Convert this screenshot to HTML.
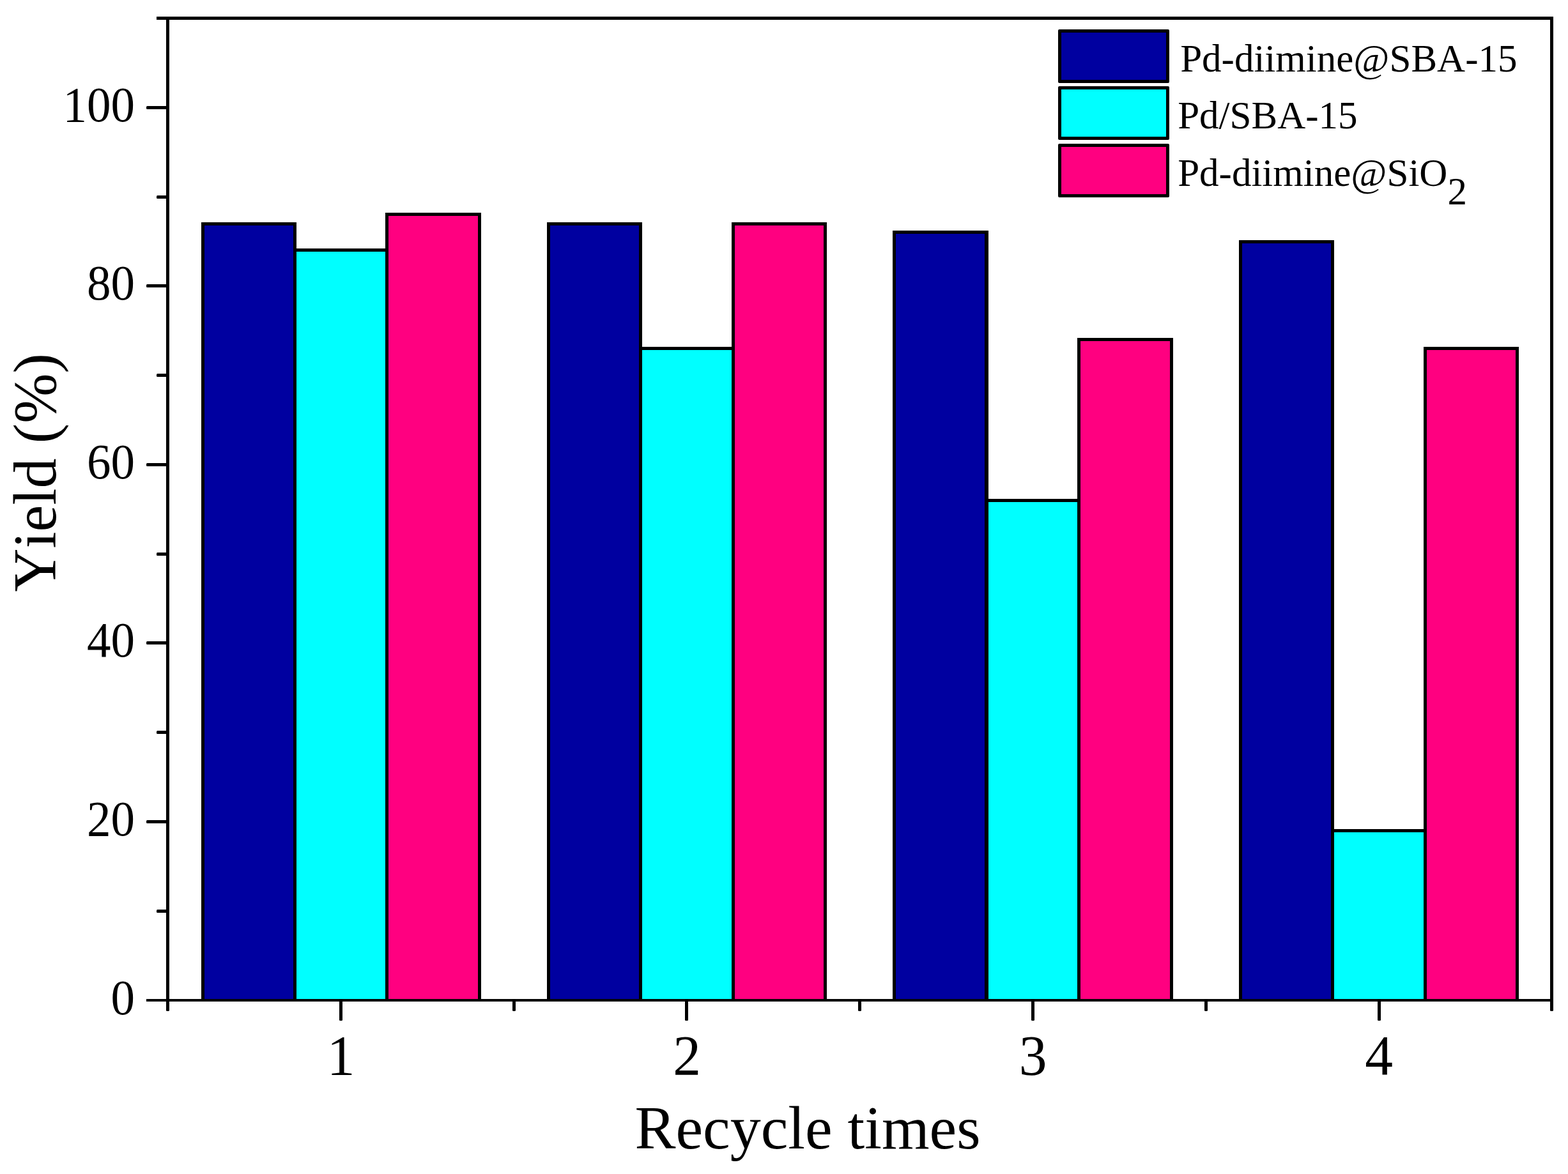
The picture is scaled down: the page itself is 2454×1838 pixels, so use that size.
<!DOCTYPE html>
<html lang="en"><head><meta charset="utf-8"><title>Recycle times vs Yield</title>
<style>
html,body{margin:0;padding:0;background:#fff;}
body{width:2454px;height:1838px;}
svg{display:block;}
text{font-family:'Liberation Serif', 'DejaVu Serif', serif;fill:#000;font-kerning:none;font-variant-ligatures:none;}
</style></head><body>
<svg width="2454" height="1838" viewBox="0 0 2454 1838">
<rect x="0" y="0" width="2454" height="1838" fill="#fff"/>
<g shape-rendering="crispEdges">
<rect x="315" y="348" width="149" height="1220" fill="#000"/>
<rect x="320" y="353" width="139" height="1211" fill="#0000A0"/>
<rect x="459" y="389" width="149" height="1179" fill="#000"/>
<rect x="464" y="394" width="139" height="1170" fill="#00FFFF"/>
<rect x="603" y="333" width="150" height="1235" fill="#000"/>
<rect x="608" y="338" width="140" height="1226" fill="#FF0080"/>
<rect x="856" y="348" width="149" height="1220" fill="#000"/>
<rect x="861" y="353" width="139" height="1211" fill="#0000A0"/>
<rect x="1000" y="543" width="150" height="1025" fill="#000"/>
<rect x="1005" y="548" width="140" height="1016" fill="#00FFFF"/>
<rect x="1145" y="348" width="149" height="1220" fill="#000"/>
<rect x="1150" y="353" width="139" height="1211" fill="#FF0080"/>
<rect x="1397" y="361" width="150" height="1207" fill="#000"/>
<rect x="1402" y="366" width="139" height="1198" fill="#0000A0"/>
<rect x="1542" y="781" width="149" height="787" fill="#000"/>
<rect x="1547" y="786" width="139" height="778" fill="#00FFFF"/>
<rect x="1686" y="529" width="150" height="1039" fill="#000"/>
<rect x="1691" y="534" width="140" height="1030" fill="#FF0080"/>
<rect x="1939" y="376" width="149" height="1192" fill="#000"/>
<rect x="1944" y="381" width="139" height="1183" fill="#0000A0"/>
<rect x="2083" y="1298" width="150" height="270" fill="#000"/>
<rect x="2088" y="1303" width="140" height="261" fill="#00FFFF"/>
<rect x="2228" y="543" width="149" height="1025" fill="#000"/>
<rect x="2233" y="548" width="139" height="1016" fill="#FF0080"/>
</g>
<g fill="#000" shape-rendering="crispEdges">
<rect x="260" y="26" width="5" height="1542"/>
<rect x="2426" y="26" width="5" height="1542"/>
<rect x="245" y="26" width="2186" height="5"/>
<rect x="229" y="1564" width="2202" height="4"/>
</g>
<g fill="#000">
<path d="M246.5 1424 H261 V1429 H246.5 Q245 1429 245 1427.5 V1425.5 Q245 1424 246.5 1424 Z"/>
<path d="M230.5 1284 H261 V1289 H230.5 Q229 1289 229 1287.5 V1285.5 Q229 1284 230.5 1284 Z"/>
<path d="M246.5 1144 H261 V1149 H246.5 Q245 1149 245 1147.5 V1145.5 Q245 1144 246.5 1144 Z"/>
<path d="M230.5 1004 H261 V1009 H230.5 Q229 1009 229 1007.5 V1005.5 Q229 1004 230.5 1004 Z"/>
<path d="M246.5 865 H261 V870 H246.5 Q245 870 245 868.5 V866.5 Q245 865 246.5 865 Z"/>
<path d="M230.5 725 H261 V730 H230.5 Q229 730 229 728.5 V726.5 Q229 725 230.5 725 Z"/>
<path d="M246.5 585 H261 V590 H246.5 Q245 590 245 588.5 V586.5 Q245 585 246.5 585 Z"/>
<path d="M230.5 445 H261 V450 H230.5 Q229 450 229 448.5 V446.5 Q229 445 230.5 445 Z"/>
<path d="M246.5 306 H261 V311 H246.5 Q245 311 245 309.5 V307.5 Q245 306 246.5 306 Z"/>
<path d="M230.5 166 H261 V171 H230.5 Q229 171 229 169.5 V167.5 Q229 166 230.5 166 Z"/>
<path d="M531 1567 H536 V1596.5 Q536 1598 534.5 1598 H532.5 Q531 1598 531 1596.5 Z"/>
<path d="M1072 1567 H1077 V1596.5 Q1077 1598 1075.5 1598 H1073.5 Q1072 1598 1072 1596.5 Z"/>
<path d="M1614 1567 H1619 V1596.5 Q1619 1598 1617.5 1598 H1615.5 Q1614 1598 1614 1596.5 Z"/>
<path d="M2156 1567 H2161 V1596.5 Q2161 1598 2159.5 1598 H2157.5 Q2156 1598 2156 1596.5 Z"/>
<path d="M802 1567 H807 V1581.5 Q807 1583 805.5 1583 H803.5 Q802 1583 802 1581.5 Z"/>
<path d="M1343 1567 H1348 V1581.5 Q1348 1583 1346.5 1583 H1344.5 Q1343 1583 1343 1581.5 Z"/>
<path d="M1885 1567 H1890 V1581.5 Q1890 1583 1888.5 1583 H1886.5 Q1885 1583 1885 1581.5 Z"/>
<path d="M260 1567 H265 V1581.5 Q265 1583 263.5 1583 H261.5 Q260 1583 260 1581.5 Z"/>
<path d="M2426 1567 H2431 V1581.5 Q2431 1583 2429.5 1583 H2427.5 Q2426 1583 2426 1581.5 Z"/>
</g>
<g font-size="75" text-anchor="end">
<text transform="translate(211 1588) scale(1 1.04)">0</text>
<text transform="translate(211 1308) scale(1 1.04)">20</text>
<text transform="translate(211 1028) scale(1 1.04)">40</text>
<text transform="translate(211 749) scale(1 1.04)">60</text>
<text transform="translate(211 469) scale(1 1.04)">80</text>
<text transform="translate(211 190) scale(1 1.04)">100</text>
</g>
<g font-size="87.5" text-anchor="middle">
<text transform="translate(533.5 1682) scale(1 1.008)">1</text>
<text transform="translate(1075.0 1682) scale(1 1.008)">2</text>
<text transform="translate(1616.5 1682) scale(1 1.008)">3</text>
<text transform="translate(2158.0 1682) scale(1 1.008)">4</text>
</g>
<text x="1264" y="1798" font-size="96" text-anchor="middle">Recycle times</text>
<text transform="translate(86.6 926.4) rotate(-90) scale(0.979 1)" font-size="96">Yield (%)</text>
<g>
<rect x="1656" y="46" width="174" height="84" rx="2" ry="2" fill="#000"/>
<rect x="1661" y="51" width="164" height="74" fill="#0000A0" shape-rendering="crispEdges"/>
<rect x="1656" y="135" width="174" height="84" rx="2" ry="2" fill="#000"/>
<rect x="1661" y="140" width="164" height="74" fill="#00FFFF" shape-rendering="crispEdges"/>
<rect x="1656" y="225" width="174" height="84" rx="2" ry="2" fill="#000"/>
<rect x="1661" y="230" width="164" height="74" fill="#FF0080" shape-rendering="crispEdges"/>
</g>
<g font-size="61">
<text x="1847.2" y="112.4">Pd-diimine@SBA-15</text>
<text x="1843.2" y="201.1">Pd/SBA-15</text>
<text x="1843.2" y="291.1">Pd-diimine@SiO<tspan dy="28.6">2</tspan></text>
</g>
</svg>
</body></html>
